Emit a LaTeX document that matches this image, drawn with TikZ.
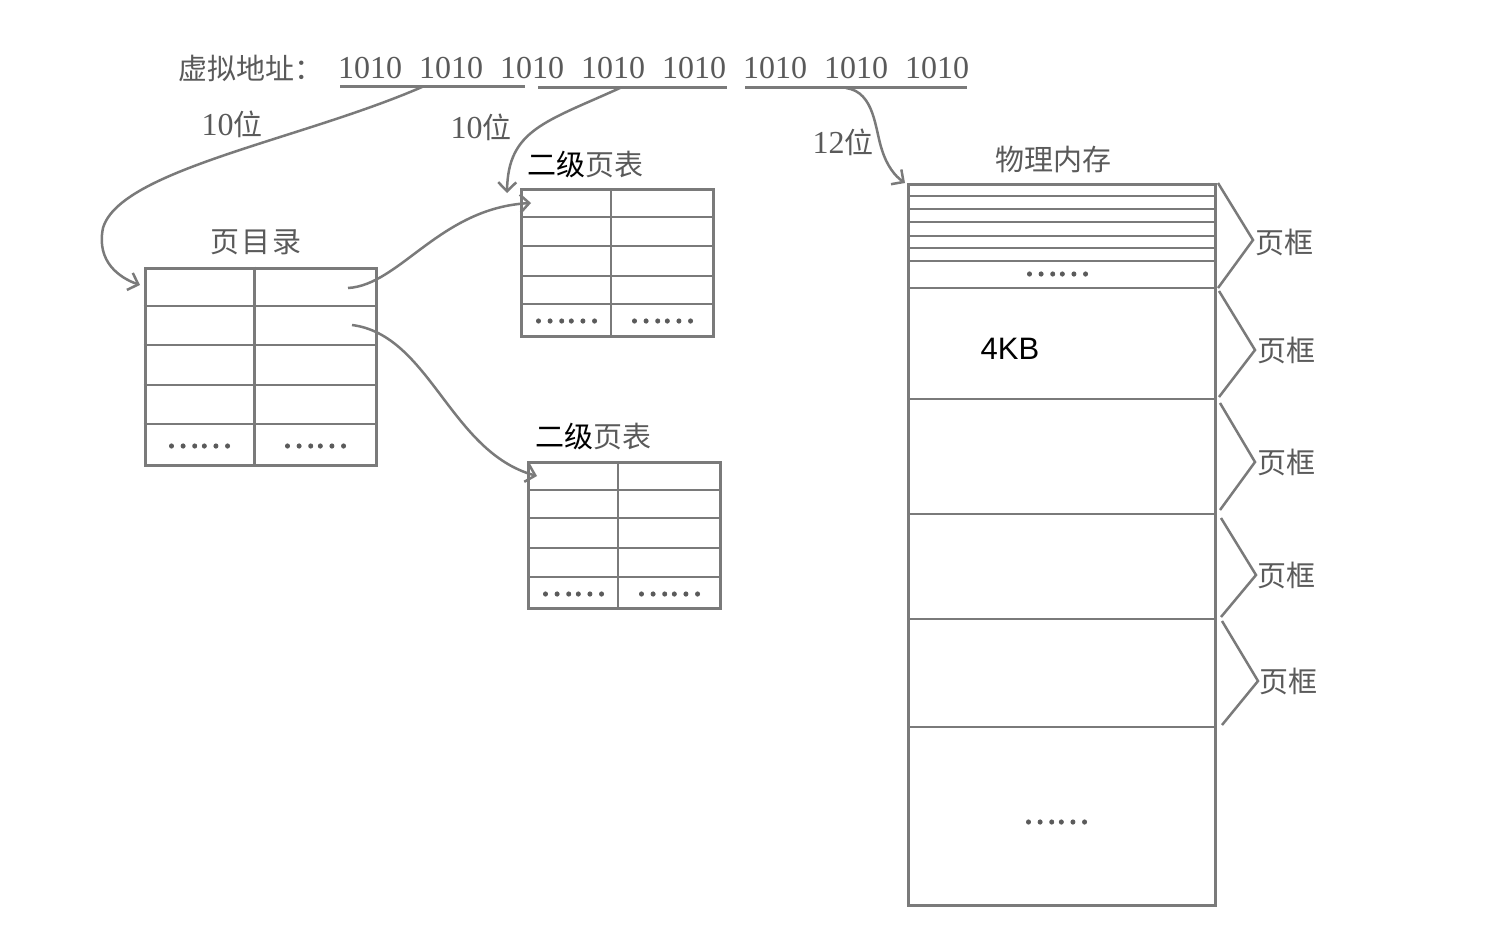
\documentclass[tikz,border=0pt]{standalone}
\usepackage{fontspec}
\newfontfamily\cjk{Noto Sans CJK SC}
\newfontfamily\dotf{Noto Sans CJK SC}[FakeBold=2.5]
\newfontfamily\numf{Liberation Serif}
\newfontfamily\sansf{Liberation Sans}
\usetikzlibrary{arrows.meta}
\definecolor{ln}{HTML}{7A7A7A}
\definecolor{tx}{HTML}{5A5A5A}
\tikzset{
  lbl/.style={font=\fontsize{29}{34}\selectfont\cjk, text=tx, inner sep=0pt},
  numlbl/.style={font=\fontsize{32}{36}\selectfont\numf, text=tx, inner sep=0pt},
  box/.style={draw=ln, line width=3pt, inner sep=0pt, anchor=north west},
  gridln/.style={draw=ln, line width=2.8pt},
  uline/.style={draw=ln, line width=3pt},
  conn/.style={draw=ln, line width=2.5pt, -{Straight Barb[length=9pt,width=18pt,line width=2.5pt]}},
  brace/.style={draw=ln, line width=2.5pt},
  dotsl/.style={font=\fontsize{31}{31}\selectfont\dotf, text=tx, inner sep=0pt}
}
\begin{document}
\begin{tikzpicture}[x=1pt,y=-1pt]
\useasboundingbox[fill=white] (0,0) rectangle (1501,943);

% ---- virtual address ----
\node[lbl, anchor=base west] (va) at (178,79) {虚拟地址：};
\node[numlbl, anchor=base west] (addr) at (338,78)
  {1010\hspace{17pt}1010\hspace{17pt}1010\hspace{17pt}1010\hspace{17pt}1010\hspace{17pt}1010\hspace{17pt}1010\hspace{17pt}1010};
\coordinate (u1a) at (340,86); \coordinate (u1b) at (525,86);
\coordinate (u2a) at (538,87); \coordinate (u2b) at (727,87);
\coordinate (u3a) at (745,87); \coordinate (u3b) at (967,87);
\draw[uline] (u1a) -- (u1b);
\draw[uline] (u2a) -- (u2b);
\draw[uline] (u3a) -- (u3b);
\coordinate (s1) at (422,87);
\coordinate (s2) at (620,88);
\coordinate (s3) at (846,88);

\node[lbl] (b1) at (232,124) {{\numf\fontsize{32}{36}\selectfont 10}位};
\node[lbl] (b2) at (481,127) {{\numf\fontsize{32}{36}\selectfont 10}位};
\node[lbl] (b3) at (843,142) {{\numf\fontsize{32}{36}\selectfont 12}位};

% ---- page directory ----
\node[lbl] (dirl) at (256,242) {页\hspace{2pt}目\hspace{2pt}录};
\node[box, minimum width=231pt, minimum height=197pt] (dir) at (143.5,266.5) {};
\draw[gridln] (254.5,266.5) -- (254.5,463.5);
\foreach \y in {306,345,385,424} \draw[gridln] (143.5,\y) -- (375,\y);
\node[dotsl] (dd1) at (199,446) {……};
\node[dotsl] (dd2) at (315,446) {……};
\coordinate (d1) at (348,288);
\coordinate (d2) at (352,325);

% ---- second level table 1 ----
\node[lbl] (t1l) at (585,165) {{\color{black}二级}页表};
\node[box, minimum width=192pt, minimum height=147pt] (t1) at (520,188) {};
\draw[gridln] (611,188) -- (611,335);
\foreach \y in {217,246,276,304} \draw[gridln] (520,\y) -- (712,\y);
\node[dotsl] (t1d1) at (566,321) {……};
\node[dotsl] (t1d2) at (662,321) {……};
\coordinate (t1in) at (531,203);
\coordinate (t1top) at (507,193);

% ---- second level table 2 ----
\node[lbl] (t2l) at (593,436) {{\color{black}二级}页表};
\node[box, minimum width=192pt, minimum height=146pt] (t2) at (527,461) {};
\draw[gridln] (618,461) -- (618,607);
\foreach \y in {490,518,548,577} \draw[gridln] (527,\y) -- (719,\y);
\node[dotsl] (t2d1) at (573,594) {……};
\node[dotsl] (t2d2) at (669,594) {……};
\coordinate (t2in) at (537,476);

% ---- physical memory ----
\node[lbl] (meml) at (1053,160) {物理内存};
\node[box, minimum width=307pt, minimum height=721pt] (mem) at (907,183) {};
\foreach \y in {196,209,222,236,248,261} \draw[draw=ln, line width=2.5pt] (907,\y) -- (1214,\y);
\foreach \y in {288,399,514,619,727} \draw[gridln] (907,\y) -- (1214,\y);
\node[dotsl] (md1) at (1057,274) {……};
\node[font=\fontsize{31}{36}\selectfont\sansf, text=black, inner sep=0pt] (kb) at (1010,349) {4KB};
\node[dotsl] (md2) at (1056,822) {……};
\coordinate (memtop) at (905,183);

% ---- braces ----
\draw[brace] (1218,183) -- (1253,240) -- (1218,288);
\draw[brace] (1219,291) -- (1255,350) -- (1219,397);
\draw[brace] (1220,403) -- (1255,462) -- (1220,510);
\draw[brace] (1221,518) -- (1256,575) -- (1221,617);
\draw[brace] (1222,621) -- (1258,681) -- (1222,725);
\node[lbl, anchor=west] (f1) at (1255,242) {页框};
\node[lbl, anchor=west] (f2) at (1257,350) {页框};
\node[lbl, anchor=west] (f3) at (1257,462) {页框};
\node[lbl, anchor=west] (f4) at (1257,575) {页框};
\node[lbl, anchor=west] (f5) at (1259,681) {页框};

% ---- connectors ----
\draw[conn] (s1) .. controls (300,140) and (120,170) .. (103,228)
            .. controls (96,262) and (120,278) .. (140,285);
\draw[conn] (s2) .. controls (545,122) and (508,130) .. (t1top);
\draw[conn] (s3) .. controls (875,92) and (875,130) .. (882,150)
            .. controls (887,166) and (895,176) .. (memtop);
\draw[conn] (d1) .. controls (400,285) and (440,208) .. (t1in);
\draw[conn] (d2) .. controls (430,335) and (450,452) .. (t2in);
\end{tikzpicture}
\end{document}
